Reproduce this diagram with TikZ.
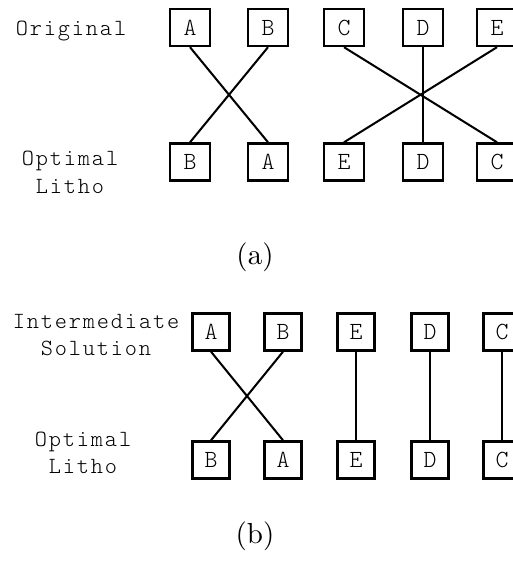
\documentclass[tikz,border=0pt]{standalone}
\usepackage{fontspec}
\newfontfamily\lblfont[LetterSpace=8]{Latin Modern Mono Light}
\usepackage{tikz}

\begin{document}
\begin{tikzpicture}[x=0.345pt, y=0.345pt,
    cell/.style={draw, line width=0.8pt, minimum width=13.8pt, minimum height=12.8pt,
                 inner sep=0pt, font=\lblfont\fontsize{8.5}{9.5}\selectfont},
    cellb/.style={cell, minimum width=12.8pt},
    lbl/.style={align=center, font=\lblfont\fontsize{8}{9.5}\selectfont},
    wire/.style={line width=0.7pt},
    subcap/.style={font=\normalsize}]

  \useasboundingbox (0,0) rectangle (512,561);

  %% (a) original order vs. optimal litho order
  \node[lbl] (origlbl) at (71,530) {Original};
  \node[lbl] (optalbl) at (70,388.5) {Optimal\\Litho};
  \foreach \x/\l in {190/A, 268/B, 344/C, 423/D, 497/E}
    \node[cell] (orig\l) at (\x,533.5) {\l};
  \foreach \x/\l in {190/B, 268/A, 344/E, 423/D, 497/C}
    \node[cell] (opta\l) at (\x,399) {\l};
  \foreach \l in {A,B,C,D,E}
    \draw[wire] (orig\l.south) -- (opta\l.north);
  \node[subcap] (capa) at (255,304) {(a)};

  %% (b) intermediate solution vs. optimal litho order
  \node[lbl] (intlbl) at (96,226) {Intermediate\\Solution};
  \node[lbl] (optblbl) at (83,108) {Optimal\\Litho};
  \foreach \x/\l in {211/A, 283/B, 356/E, 430/D, 502/C}
    \node[cellb] (int\l) at (\x,229) {\l};
  \foreach \x/\l in {211/B, 283/A, 356/E, 430/D, 502/C}
    \node[cellb] (optb\l) at (\x,101) {\l};
  \foreach \l in {A,B,C,D,E}
    \draw[wire] (int\l.south) -- (optb\l.north);
  \node[subcap] (capb) at (255,25) {(b)};

\end{tikzpicture}
\end{document}
